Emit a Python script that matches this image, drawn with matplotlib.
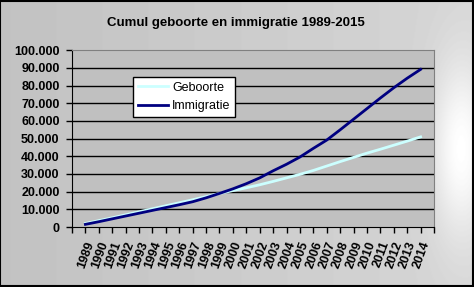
import numpy as np
import matplotlib
matplotlib.use('Agg')
import matplotlib.pyplot as plt

''' Cumul geboorte en immigratie '''

years = [str(y) for y in range(1989, 2015)]
geboorte = [2.0, 3.6, 5.2, 6.9, 8.6, 10.3, 12.0, 13.7, 15.4, 17.2, 19.0, 20.6,
            22.2, 23.9, 25.8, 27.8, 29.8, 32.0, 34.5, 37.0, 39.4, 41.8, 44.0,
            46.3, 48.6, 51.0]
immigratie = [1.5, 3.0, 4.6, 6.2, 7.8, 9.4, 11.0, 12.6, 14.3, 16.5, 19.0, 21.6,
              24.5, 27.8, 31.8, 35.5, 39.6, 44.5, 49.2, 55.0, 61.0, 67.0, 73.0,
              78.8, 84.2, 89.2]
# values in thousands
geboorte = [v * 1000 for v in geboorte]
immigratie = [v * 1000 for v in immigratie]

plt.rcParams['font.family'] = ['Liberation Sans', 'DejaVu Sans']

fig = plt.figure(figsize=(4.74, 2.87), dpi=100)

#gradient background, light spot near the right edge
bg = fig.add_axes([0, 0, 1, 1], zorder=-10)
gx, gy = np.meshgrid(np.linspace(0, 1, 474), np.linspace(1, 0, 287))
grad = 0.76 + 0.08 * gx
grad = grad + (1 - grad) * np.exp(-((gx - 0.975) / 0.06) ** 2) \
    * np.exp(-((gy - 0.48) / 0.30) ** 2)
bg.imshow(grad, cmap='gray', vmin=0, vmax=1, aspect='auto',
          extent=[0, 1, 0, 1])
bg.set_xlim(0, 1)
bg.set_ylim(0, 1)
bg.axis('off')
bg.add_patch(plt.Rectangle((0.001, 0.002), 0.997, 0.995, fill=False,
                           ec='black', lw=1.5, transform=bg.transAxes))

ax = fig.add_axes([72 / 474, 1 - 227 / 287, 362 / 474, 176.7 / 287])
ax.set_facecolor('#c0c0c0')

x = np.arange(1, len(years) + 1)
ax.plot(x, geboorte, color='#ccffff', lw=2, label='Geboorte', zorder=3)
ax.plot(x, immigratie, color='#000080', lw=2, label='Immigratie', zorder=4)

ax.set_xlim(0, len(years) + 1)
ax.set_ylim(0, 100000)
yt = np.arange(0, 100001, 10000)
ax.set_yticks(yt)
ax.set_yticklabels(['0'] + ['{:,}'.format(v).replace(',', '.') for v in yt[1:]],
                   fontsize=9, fontweight='bold')
for v in yt[1:-1]:
    ax.axhline(v, color='black', lw=1, zorder=1)

ax.set_xticks(np.arange(0, len(years) + 2))
ax.set_xticklabels([''] + years + [''], fontsize=9, fontweight='bold',
                   rotation=70, ha='right', va='top', rotation_mode='anchor')
ax.tick_params(axis='both', direction='out', length=4, width=1, color='black')
ax.tick_params(axis='x', pad=5)
ax.tick_params(axis='y', pad=5)

for s in ['top', 'right']:
    ax.spines[s].set_color('#808080')
for s in ['left', 'bottom']:
    ax.spines[s].set_color('black')

leg = ax.legend(loc='upper left', bbox_to_anchor=(0.169, 0.851), fontsize=9,
                frameon=True, fancybox=False, framealpha=1, edgecolor='black',
                handlelength=2.4, borderpad=0.4, labelspacing=0.5,
                handletextpad=0.3, borderaxespad=0)
leg.get_frame().set_linewidth(1)

fig.text(236 / 474, 1 - 23 / 287, 'Cumul geboorte en immigratie 1989-2015',
         ha='center', va='center', fontsize=9.5, fontweight='bold')

fig.savefig('out.png', dpi=100)
